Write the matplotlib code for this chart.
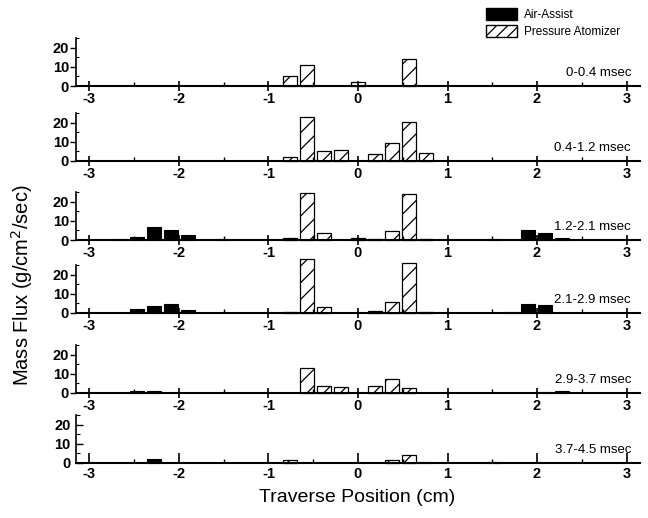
import matplotlib.pyplot as plt
from matplotlib.patches import Patch
from matplotlib.ticker import MultipleLocator

plt.rcParams['font.family'] = ['Liberation Sans', 'DejaVu Sans']
plt.rcParams['hatch.linewidth'] = 0.9

# time windows
windows = ['0-0.4 msec', '0.4-1.2 msec', '1.2-2.1 msec',
           '2.1-2.9 msec', '2.9-3.7 msec', '3.7-4.5 msec']

# air-assist (black bars): positions (cm) and mass flux
aa_pos_1 = []
aa_val_1 = []
aa_pos_2 = []
aa_val_2 = []
aa_pos_3 = [-2.66, -2.47, -2.28, -2.09, -1.90, -1.52, 1.52, 1.90, 2.09, 2.28]
aa_val_3 = [0.5, 1.5, 7.0, 5.0, 2.5, 0.5, 0.3, 5.0, 3.5, 1.0]
aa_pos_4 = [-2.47, -2.28, -2.09, -1.90, 1.71, 1.90, 2.09]
aa_val_4 = [2.0, 3.5, 4.5, 1.5, 0.5, 4.5, 4.0]
aa_pos_5 = [-2.47, -2.28, 2.09, 2.28]
aa_val_5 = [1.0, 1.0, 0.5, 0.8]
aa_pos_6 = [-2.28, 0.76, 1.52]
aa_val_6 = [2.0, 0.5, 0.3]

# pressure atomizer (hatched bars)
pa_pos_1 = [-0.76, -0.57, 0.0, 0.57]
pa_val_1 = [5.0, 11.0, 2.0, 14.0]
pa_pos_2 = [-0.76, -0.57, -0.38, -0.19, 0.19, 0.38, 0.57, 0.76]
pa_val_2 = [2.0, 23.0, 5.0, 5.5, 3.5, 9.5, 20.5, 4.0]
pa_pos_3 = [-0.76, -0.57, -0.38, 0.0, 0.19, 0.38, 0.57, 0.76]
pa_val_3 = [1.0, 24.7, 3.5, 1.0, 0.3, 4.5, 23.7, 0.5]
pa_pos_4 = [-0.76, -0.57, -0.38, 0.19, 0.38, 0.57, 0.76]
pa_val_4 = [0.5, 28.0, 3.0, 1.0, 5.5, 26.0, 0.3]
pa_pos_5 = [-0.57, -0.38, -0.19, 0.19, 0.38, 0.57]
pa_val_5 = [13.0, 3.5, 3.0, 3.5, 7.5, 2.5]
pa_pos_6 = [-0.76, 0.38, 0.57]
pa_val_6 = [1.5, 1.5, 4.0]

aa_pos = [aa_pos_1, aa_pos_2, aa_pos_3, aa_pos_4, aa_pos_5, aa_pos_6]
aa_val = [aa_val_1, aa_val_2, aa_val_3, aa_val_4, aa_val_5, aa_val_6]
pa_pos = [pa_pos_1, pa_pos_2, pa_pos_3, pa_pos_4, pa_pos_5, pa_pos_6]
pa_val = [pa_val_1, pa_val_2, pa_val_3, pa_val_4, pa_val_5, pa_val_6]

W, H = 648, 518
fig = plt.figure(figsize=(W / 100, H / 100), dpi=100)

zero_px = [86, 161, 240, 313, 393, 463]
left, right = 76, 640
bw = 0.16

for i in range(6):
    ax = fig.add_axes([left / W, 1 - zero_px[i] / H, (right - left) / W, 48 / H])
    ax.bar(aa_pos[i], aa_val[i], width=bw, color='black', edgecolor='black',
           linewidth=0.8, clip_on=False)
    ax.bar(pa_pos[i], pa_val[i], width=bw, color='white', edgecolor='black',
           hatch='//', linewidth=0.9, clip_on=False)
    ax.set_xlim(-3.15, 3.15)
    ax.set_ylim(0, 25)
    ax.spines['top'].set_visible(False)
    ax.spines['right'].set_visible(False)
    ax.spines['left'].set_linewidth(1.2)
    ax.spines['bottom'].set_linewidth(1.5)
    ax.set_xticks([-3, -2, -1, 0, 1, 2, 3])
    ax.set_yticks([0, 10, 20])
    ax.xaxis.set_minor_locator(MultipleLocator(0.5))
    ax.yaxis.set_minor_locator(MultipleLocator(5))
    if i < 5:
        ax.tick_params(axis='x', which='major', direction='inout', length=7, width=1.2,
                       labelsize=10.5, pad=1)
        ax.tick_params(axis='x', which='minor', direction='in', length=3, width=1.0)
        ax.tick_params(axis='y', which='major', direction='out', length=4, width=1.0,
                       labelsize=10.5, pad=1)
        ax.tick_params(axis='y', which='minor', direction='in', length=2, width=0.8)
    else:
        ax.tick_params(axis='x', which='major', direction='in', length=7, width=1.2,
                       labelsize=10.5, pad=3)
        ax.tick_params(axis='x', which='minor', direction='in', length=3, width=1.0)
        ax.tick_params(axis='y', which='major', direction='in', length=5, width=1.0,
                       labelsize=10.5, pad=4)
        ax.tick_params(axis='y', which='minor', direction='in', length=3, width=0.8)
    ax.set_xticklabels(['-3', '-2', '-1', '0', '1', '2', '3'], fontweight='bold')
    ax.set_yticklabels(['0', '10', '20'], fontweight='bold')
    ax.text(3.05, 7, windows[i], ha='right', va='center', fontsize=9.5)
    ax.patch.set_alpha(0)

fig.text(357 / W, 1 - 497 / H, 'Traverse Position (cm)', ha='center', va='center',
         fontsize=14)
fig.text(22 / W, 1 - 285 / H, 'Mass Flux (g/cm$^2$/sec)', ha='center', va='center',
         rotation=90, fontsize=14.5)

handles = [Patch(facecolor='black', edgecolor='black', label='Air-Assist'),
           Patch(facecolor='white', edgecolor='black', hatch='///',
                 label='Pressure Atomizer')]
fig.legend(handles=handles, loc='upper left', bbox_to_anchor=(478 / W, 1 - 0 / H),
           frameon=False, fontsize=8.5, handlelength=2.6, handleheight=1.2,
           handletextpad=0.6, labelspacing=0.3, borderpad=0.2)

fig.savefig('out.png', dpi=100)
